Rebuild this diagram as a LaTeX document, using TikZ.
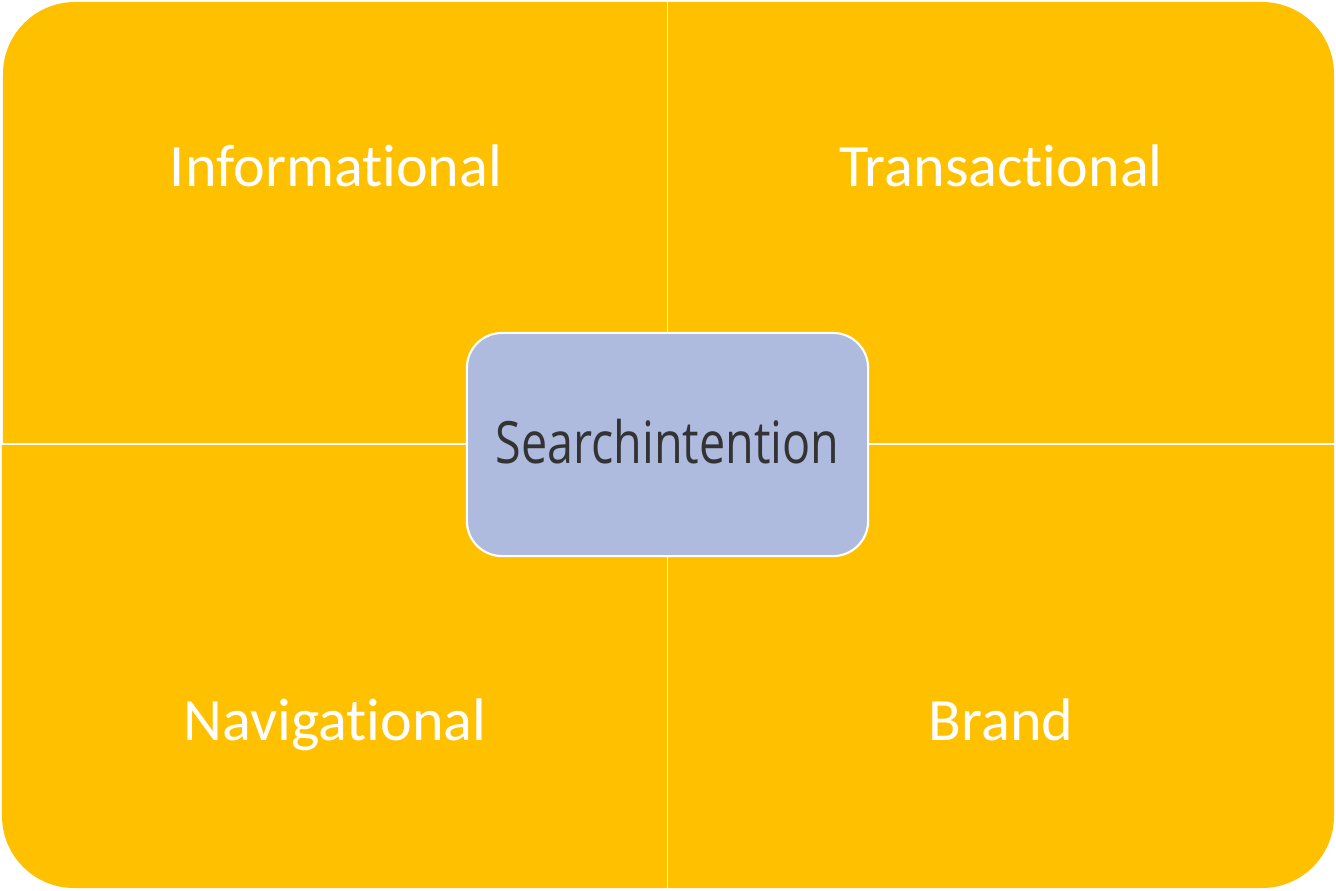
\documentclass[tikz,border=0pt]{standalone}
\usepackage{fontspec}
\setmainfont[Ligatures=NoCommon]{Carlito}
\newfontfamily\centerfont[FakeStretch=0.8]{Open Sans}
\definecolor{quadgold}{HTML}{FFC000}
\definecolor{centerblue}{HTML}{AEBBDE}
\definecolor{centertext}{HTML}{333333}

\tikzset{
  quadlabel/.style={text=white,font=\fontsize{17.1pt}{20pt}\selectfont,anchor=base},
  centerbox/.style={draw=white,line width=0.6pt,fill=centerblue,rounded corners=0.35cm,
    minimum width=4.01cm,minimum height=2.23cm,text=centertext,text depth=0.07cm,
    font=\centerfont\fontsize{16.6pt}{20pt}\selectfont}
}

\begin{document}
\begin{tikzpicture}[x=0.01cm,y=-0.01cm]
\useasboundingbox (0,0) rectangle (1336,891);
%\draw[step=100,gray,very thin] (0,0) grid (1336,891);
\fill[quadgold] (3,443) [rounded corners=0.72cm] -- (3,2) [sharp corners] -- (667,2) -- (667,443) -- cycle;
\fill[quadgold] (668,2) [rounded corners=0.72cm] -- (1334,2) [sharp corners] -- (1334,443) -- (668,443) -- cycle;
\fill[quadgold] (667,888) [rounded corners=0.72cm] -- (2,888) [sharp corners] -- (2,445) -- (667,445) -- cycle;
\fill[quadgold] (1334,445) [rounded corners=0.72cm] -- (1334,888) [sharp corners] -- (668,888) -- (668,445) -- cycle;
\node[quadlabel] (info) at (336,186) {Informational};
\node[quadlabel] (trans) at (1001,186) {Transactional};
\node[quadlabel] (navi) at (335,740) {Navigational};
\node[quadlabel] (brand) at (1001,740) {Brand};
\node[centerbox] (search) at (667.5,444.5) {Searchintention};

\end{tikzpicture}
\end{document}
